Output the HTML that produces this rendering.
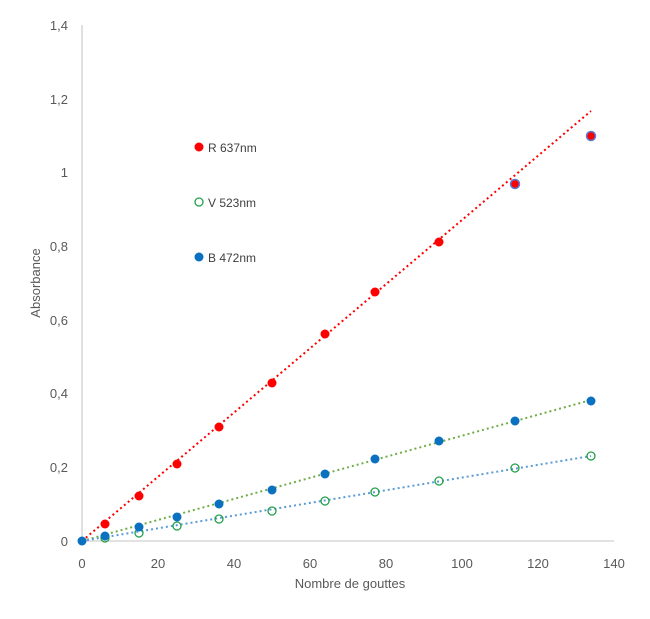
<!DOCTYPE html>
<html><head><style>body{margin:0;background:#fff}</style></head><body>
<svg width="650" height="614" xmlns="http://www.w3.org/2000/svg" font-family="Liberation Sans, sans-serif">
<rect width="650" height="614" fill="#fff"/>
<line x1="82" y1="25" x2="82" y2="541" stroke="#d0d0d0" stroke-width="1.3"/>
<line x1="82" y1="541" x2="614" y2="541" stroke="#d0d0d0" stroke-width="1.3"/>
<g font-size="13" fill="#595959" text-anchor="end">
<text x="68" y="546">0</text><text x="68" y="472">0,2</text><text x="68" y="398">0,4</text>
<text x="68" y="325">0,6</text><text x="68" y="251">0,8</text><text x="68" y="177">1</text>
<text x="68" y="104">1,2</text><text x="68" y="30">1,4</text>
</g>
<g font-size="13" fill="#595959" text-anchor="middle">
<text x="82" y="568">0</text><text x="158" y="568">20</text><text x="234" y="568">40</text>
<text x="310" y="568">60</text><text x="386" y="568">80</text><text x="462" y="568">100</text>
<text x="538" y="568">120</text><text x="614" y="568">140</text>
</g>
<text x="350" y="588" font-size="13" fill="#595959" text-anchor="middle">Nombre de gouttes</text>
<text transform="translate(40,283) rotate(-90)" font-size="13" fill="#595959" text-anchor="middle">Absorbance</text>
<line x1="82" y1="541" x2="591" y2="111" stroke="#ff0000" stroke-width="2" stroke-dasharray="2 3"/>
<line x1="82" y1="541" x2="591" y2="400" stroke="#70ad47" stroke-width="2" stroke-dasharray="2 3"/>
<line x1="82" y1="541" x2="591" y2="456" stroke="#5b9bd5" stroke-width="2" stroke-dasharray="2 3"/>
<g fill="#ff0000">
<circle cx="105" cy="524" r="4.5"/><circle cx="139" cy="496" r="4.5"/><circle cx="177" cy="464" r="4.5"/>
<circle cx="219" cy="427" r="4.5"/><circle cx="272" cy="383" r="4.5"/><circle cx="325" cy="334" r="4.5"/>
<circle cx="375" cy="292" r="4.5"/><circle cx="439" cy="242" r="4.5"/>
<circle cx="515" cy="184" r="4.5" stroke="#5b7bd5" stroke-width="1.5"/><circle cx="591" cy="136" r="4.5" stroke="#5b7bd5" stroke-width="1.5"/>
</g>
<g fill="none" stroke="#22a04a" stroke-width="1.3">
<circle cx="105" cy="538" r="4"/><circle cx="139" cy="533" r="4"/><circle cx="177" cy="526" r="4"/>
<circle cx="219" cy="519" r="4"/><circle cx="272" cy="511" r="4"/><circle cx="325" cy="501" r="4"/>
<circle cx="375" cy="492" r="4"/><circle cx="439" cy="481" r="4"/><circle cx="515" cy="468" r="4"/><circle cx="591" cy="456" r="4"/>
</g>
<g fill="#0a70c0">
<circle cx="82" cy="541" r="4.5"/><circle cx="105" cy="536" r="4.5"/><circle cx="139" cy="527" r="4.5"/>
<circle cx="177" cy="517" r="4.5"/><circle cx="219" cy="504" r="4.5"/><circle cx="272" cy="490" r="4.5"/>
<circle cx="325" cy="474" r="4.5"/><circle cx="375" cy="459" r="4.5"/><circle cx="439" cy="441" r="4.5"/>
<circle cx="515" cy="421" r="4.5"/><circle cx="591" cy="401" r="4.5"/>
</g>
<circle cx="199" cy="147" r="4.5" fill="#ff0000"/>
<circle cx="199" cy="202" r="4" fill="none" stroke="#22a04a" stroke-width="1.3"/>
<circle cx="199" cy="257" r="4.5" fill="#0a70c0"/>
<g font-size="12" fill="#404040">
<text x="208" y="152">R 637nm</text><text x="208" y="207">V 523nm</text><text x="208" y="262">B 472nm</text>
</g>
</svg>
</body></html>
